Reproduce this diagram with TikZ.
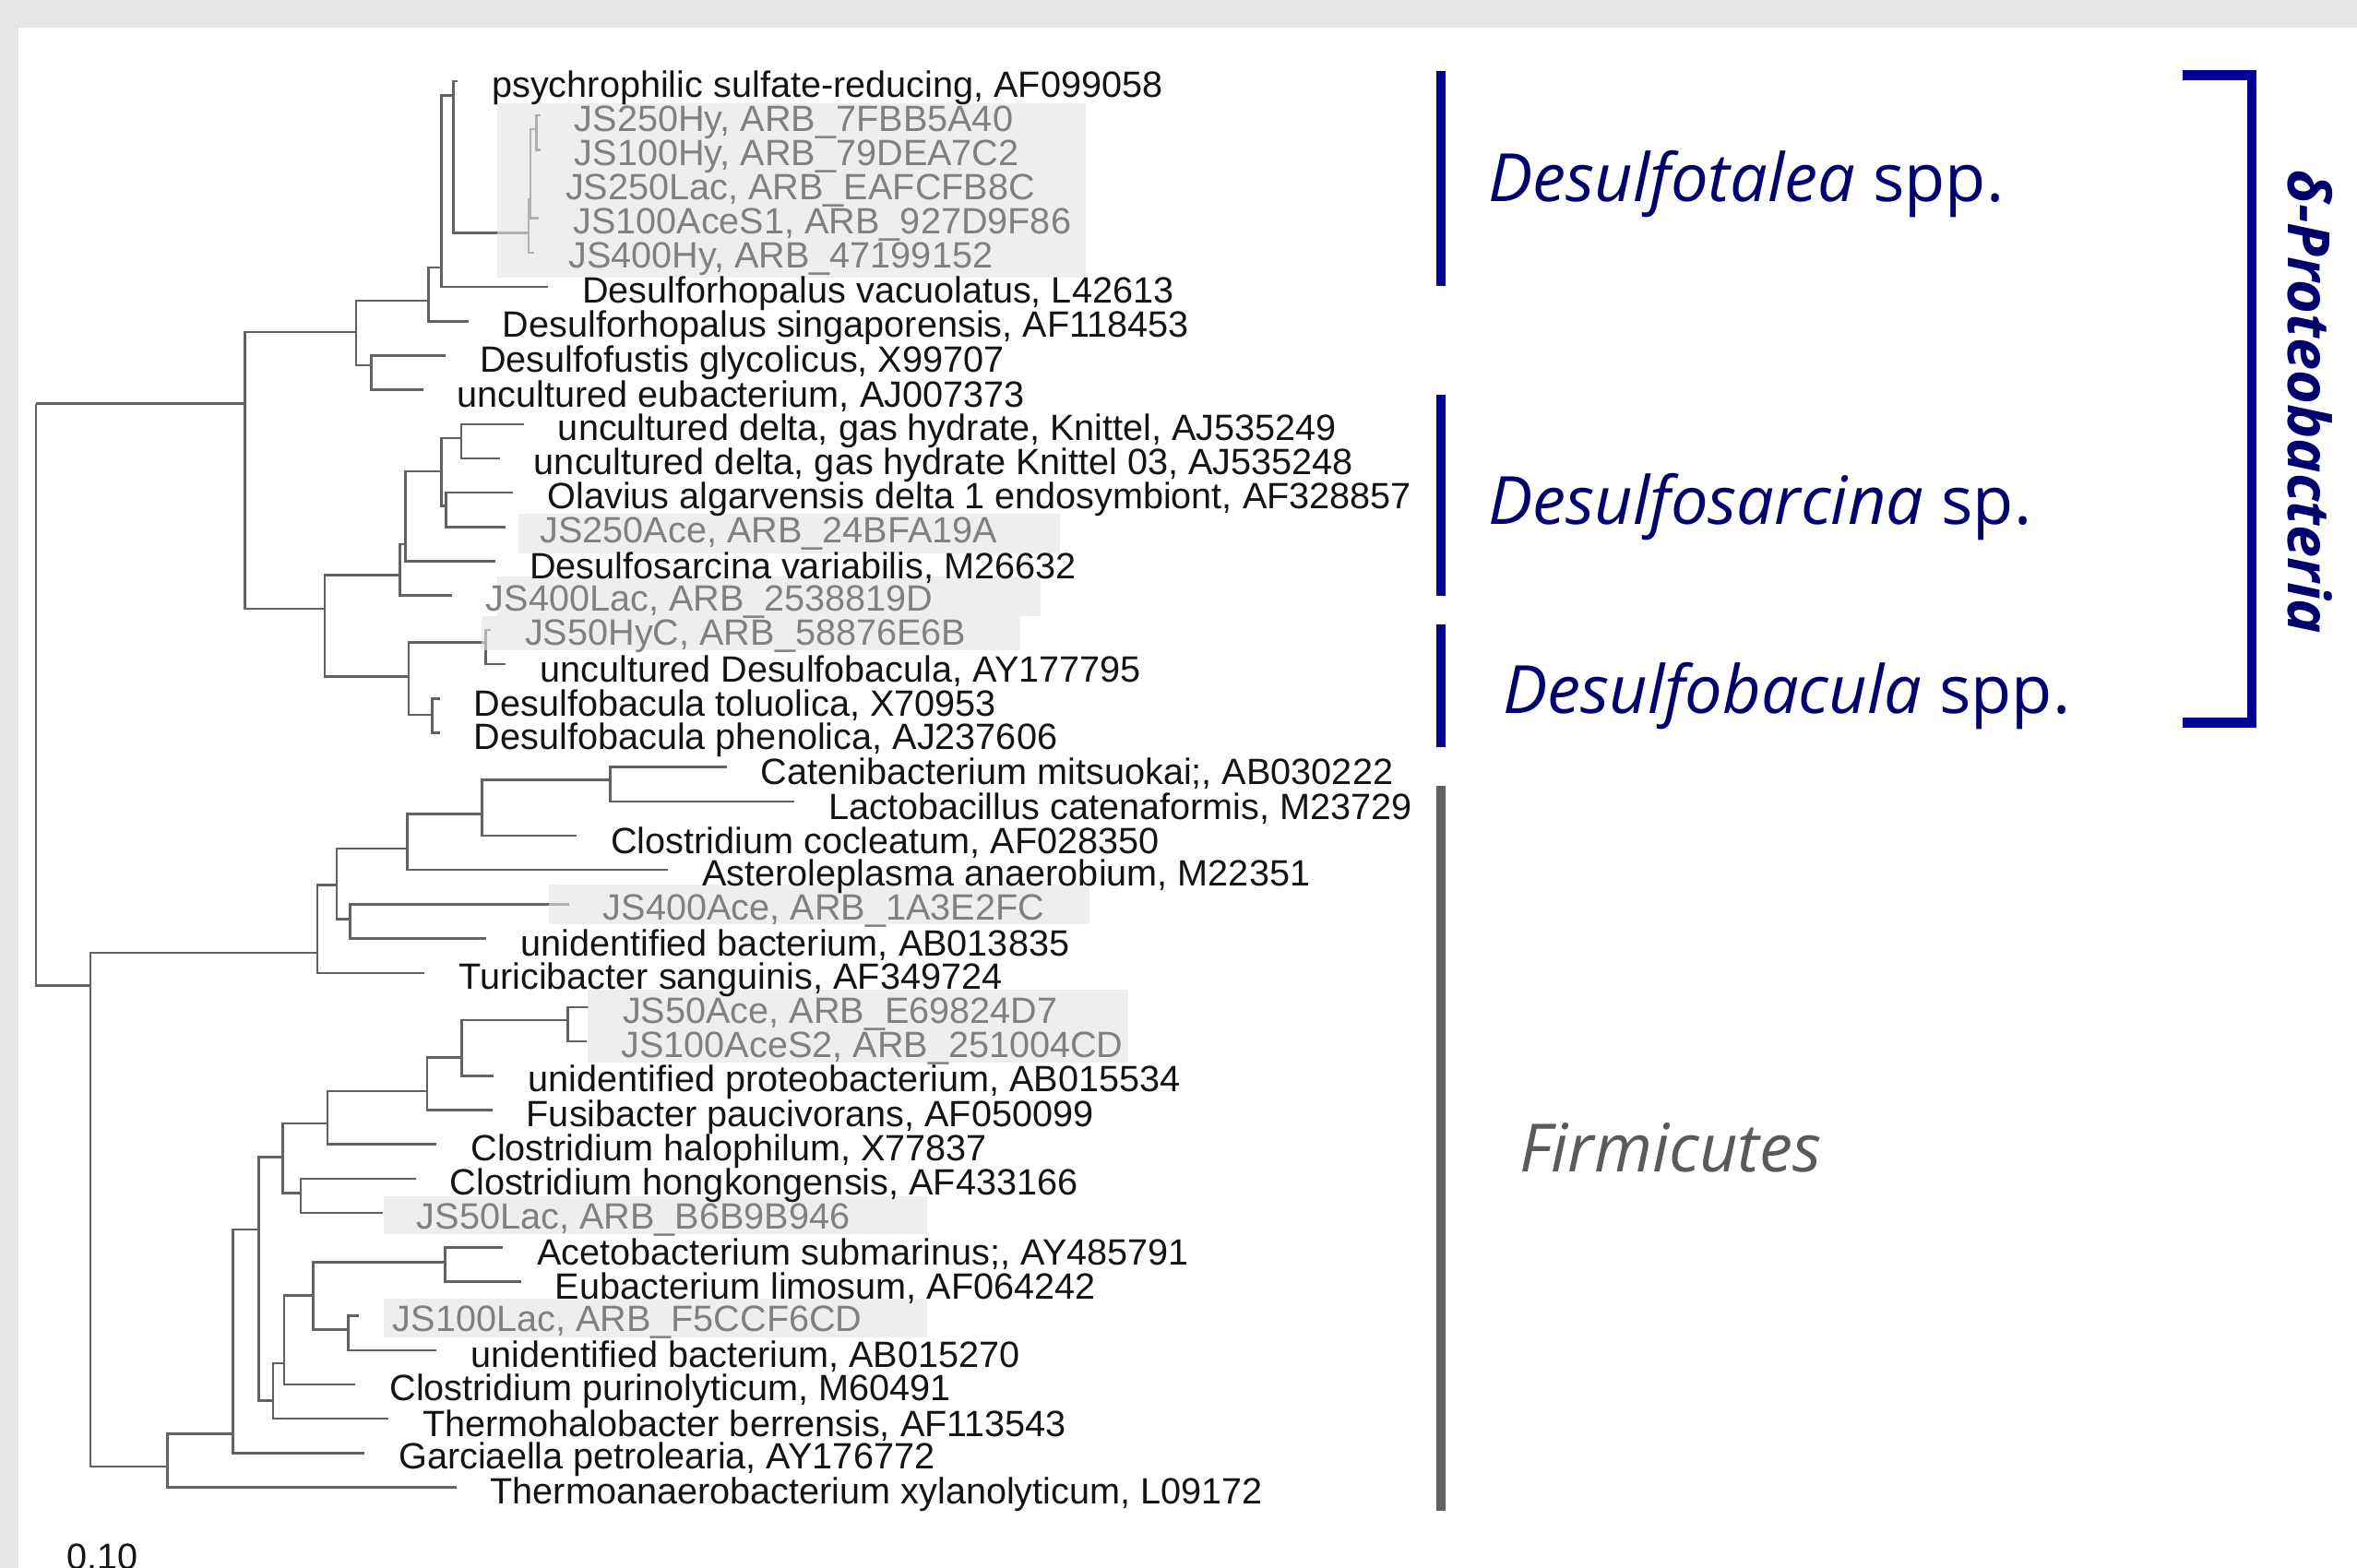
\documentclass[tikz,border=0pt]{standalone}
\usepackage{fontspec}
\setmainfont{Liberation Sans}
\newfontfamily\cladefont{Open Sans}
\definecolor{bgray}{HTML}{E6E6E6}
\definecolor{branchgray}{HTML}{626262}
\definecolor{jsgray}{HTML}{808080}
\definecolor{boxgray}{HTML}{E4E4E4}
\definecolor{navy}{HTML}{000096}
\definecolor{navytext}{HTML}{00006E}
\definecolor{firmgray}{HTML}{5A5A5A}
\definecolor{bargray}{HTML}{616161}

\newcommand\leaflist{1/327/lab/{psychrophilic sulfate-reducing, AF099058},
2/382/js/{JS250Hy, ARB\_7FBB5A40}, 3/382/js/{JS100Hy, ARB\_79DEA7C2},
4/376/js/{JS250Lac, ARB\_EAFCFB8C}, 5/381/js/{JS100AceS1, ARB\_927D9F86},
6/378/js/{JS400Hy, ARB\_47199152}, 7/387/lab/{Desulforhopalus vacuolatus, L42613},
8/334/lab/{Desulforhopalus singaporensis, AF118453}, 9/319/lab/{Desulfofustis glycolicus, X99707},
10/304/lab/{uncultured eubacterium, AJ007373}, 11/371/lab/{uncultured delta, gas hydrate, Knittel, AJ535249},
12/355/lab/{uncultured delta, gas hydrate Knittel 03, AJ535248},
13/364/lab/{Olavius algarvensis delta 1 endosymbiont, AF328857},
14/359/js/{JS250Ace, ARB\_24BFA19A}, 15/352/lab/{Desulfosarcina variabilis, M26632},
16/323/js/{JS400Lac, ARB\_2538819D}, 17/349/js/{JS50HyC, ARB\_58876E6B},
18/359/lab/{uncultured Desulfobacula, AY177795}, 19/315/lab/{Desulfobacula toluolica, X70953},
20/315/lab/{Desulfobacula phenolica, AJ237606}, 21/506/lab/{Catenibacterium mitsuokai;, AB030222},
22/551/lab/{Lactobacillus catenaformis, M23729}, 23/406/lab/{Clostridium cocleatum, AF028350},
24/467/lab/{Asteroleplasma anaerobium, M22351}, 25/401/js/{JS400Ace, ARB\_1A3E2FC},
26/346/lab/{unidentified bacterium, AB013835}, 27/305/lab/{Turicibacter sanguinis, AF349724},
28/414/js/{JS50Ace, ARB\_E69824D7}, 29/413/js/{JS100AceS2, ARB\_251004CD},
30/351/lab/{unidentified proteobacterium, AB015534}, 31/350/lab/{Fusibacter paucivorans, AF050099},
32/313/lab/{Clostridium halophilum, X77837}, 33/299/lab/{Clostridium hongkongensis, AF433166},
34/277/js/{JS50Lac, ARB\_B6B9B946}, 35/357/lab/{Acetobacterium submarinus;, AY485791},
36/369/lab/{Eubacterium limosum, AF064242}, 37/261/js/{JS100Lac, ARB\_F5CCF6CD},
38/313/lab/{unidentified bacterium, AB015270}, 39/259/lab/{Clostridium purinolyticum, M60491},
40/281/lab/{Thermohalobacter berrensis, AF113543}, 41/265/lab/{Garciaella petrolearia, AY176772},
42/326/lab/{Thermoanaerobacterium xylanolyticum, L09172}}

\begin{document}
\begin{tikzpicture}[x=0.025cm,y=-0.025cm,
  branch/.style={draw=branchgray,line width=1.1pt},
  lab/.style={anchor=west,inner sep=0pt,text=black!92,font=\fontsize{17.3}{20}\selectfont},
  js/.style={lab,text=jsgray},
  hl/.style={fill=boxgray,fill opacity=0.6},
  clade/.style={anchor=base west,inner sep=0pt,text=navytext,font=\cladefont\fontsize{31.5}{36}\selectfont},
  bar/.style={line width=4.7pt,draw=navy}]
\useasboundingbox (0,0) rectangle (1568,1043);
\clip (0,0) rectangle (1568,1043);
\fill[bgray] (0,0) rectangle (1568,1043);
\fill[white] (12.3,18.4) rectangle (1568,1043);

\foreach \n/\x/\y in {root/24/268.5, delta/163/268.5, firm/60/655.6,
  tal1/237/221, tal2/285/200, tal3/293.5/178, tal4/301.7/63.4,
  js1/351.5/155, js2/353/133, js3/357/86, fus/247/243,
  sarbac/216/405, sar1/266/382.5, sar2/269.6/362, sar3/293.5/313.6,
  sar4/306.8/291.5, sar5/296.6/336.5, bac1/272/450, bac2/323/427.5, bac3/287.5/475.5,
  fa1/211/634, fa2/224/589, fa3/271/564.6, fa4/320.6/541.7, fa5/406/519, fa6/233/611.6,
  fb1/111.5/975.8, fb2/155/954, fb3/172/818, fb4/188/770, fb5/218/747.6,
  fb6/284/726, fb7/307/703.7, fb8/200/793.7, fb9/377.6/678.7,
  fc1/181.6/931.8, fc2/189/907, fc3/208.5/862, fc4/296/840, fc5/231.7/884.7}
  \coordinate (\n) at (\x,\y);
\foreach \i/\x/\c/\t in \leaflist
  \coordinate (l\i) at ({\x-22.5},{54+22.82*(\i-1)});

\foreach \a/\b in {root/delta, root/firm, delta/tal1, delta/sarbac,
  tal1/tal2, tal1/fus, tal2/tal3, tal2/l8, tal3/tal4, tal3/l7, tal4/l1, tal4/js1,
  js1/js2, js1/l6, js2/js3, js2/l4, js2/l5, js3/l2, js3/l3, fus/l9, fus/l10,
  sarbac/sar1, sarbac/bac1, sar1/sar2, sar1/l16, sar2/sar3, sar2/l15,
  sar3/sar4, sar3/sar5, sar4/l11, sar4/l12, sar5/l13, sar5/l14,
  bac1/bac2, bac1/bac3, bac2/l17, bac2/l18, bac3/l19, bac3/l20,
  firm/fa1, firm/fb1, fa1/fa2, fa1/l27, fa2/fa3, fa2/fa6, fa3/fa4, fa3/l24,
  fa4/fa5, fa4/l23, fa5/l21, fa5/l22, fa6/l25, fa6/l26,
  fb1/fb2, fb1/l42, fb2/fb3, fb2/l41, fb3/fb4, fb3/fc1, fb4/fb5, fb4/fb8,
  fb5/fb6, fb5/l32, fb6/fb7, fb6/l31, fb7/fb9, fb7/l30, fb9/l28, fb9/l29,
  fb8/l33, fb8/l34, fc1/fc2, fc1/l40, fc2/fc3, fc2/l39, fc3/fc4, fc3/fc5,
  fc4/l35, fc4/l36, fc5/l37, fc5/l38}
  \draw[branch] (\a) |- (\b);

\foreach \xa/\ya/\xb/\yb in {331/68.5/722.6/185, 345/341.6/705/368, 331/383.5/692/410,
  320.6/410/679/432.6, 365/588.7/725/614.7, 391/658.7/750.6/706.7,
  255.5/795.8/616.8/821.3, 255.5/864.3/616.8/889.9}
  \fill[hl] (\xa,\ya) rectangle (\xb,\yb);

\foreach \i/\x/\c/\t in \leaflist
  \node[\c] (t\i) at (\x,{58.5+22.82*(\i-1)}) {\t};
\node[lab,anchor=north west] (scale) at (44,1027) {0.10};

\draw[bar] (958.6,47.5) -- (958.6,190.2);
\draw[bar] (958.6,262.4) -- (958.6,396.3);
\draw[bar] (958.6,415.6) -- (958.6,497.4);
\draw[bar,draw=bargray] (958.6,522.6) -- (958.6,1005);
\draw[bar] (1452,50) -- (1498,50) -- (1498,481) -- (1452,481);

\node[clade] (talea) at (990,134) {\textit{Desulfotalea} spp.};
\node[clade] (sarcina) at (990,348.7) {\textit{Desulfosarcina} sp.};
\node[clade] (bacula) at (999.6,474.8) {\textit{Desulfobacula} spp.};
\node[clade,text=firmgray] (firmi) at (1010.6,779.4) {\textit{Firmicutes}};
\node[clade,anchor=base,rotate=-90,font=\cladefont\bfseries\itshape\fontsize{27.5}{32}\selectfont] (proteo) at (1522,267.5) {δ-Proteobacteria};
\end{tikzpicture}
\end{document}
